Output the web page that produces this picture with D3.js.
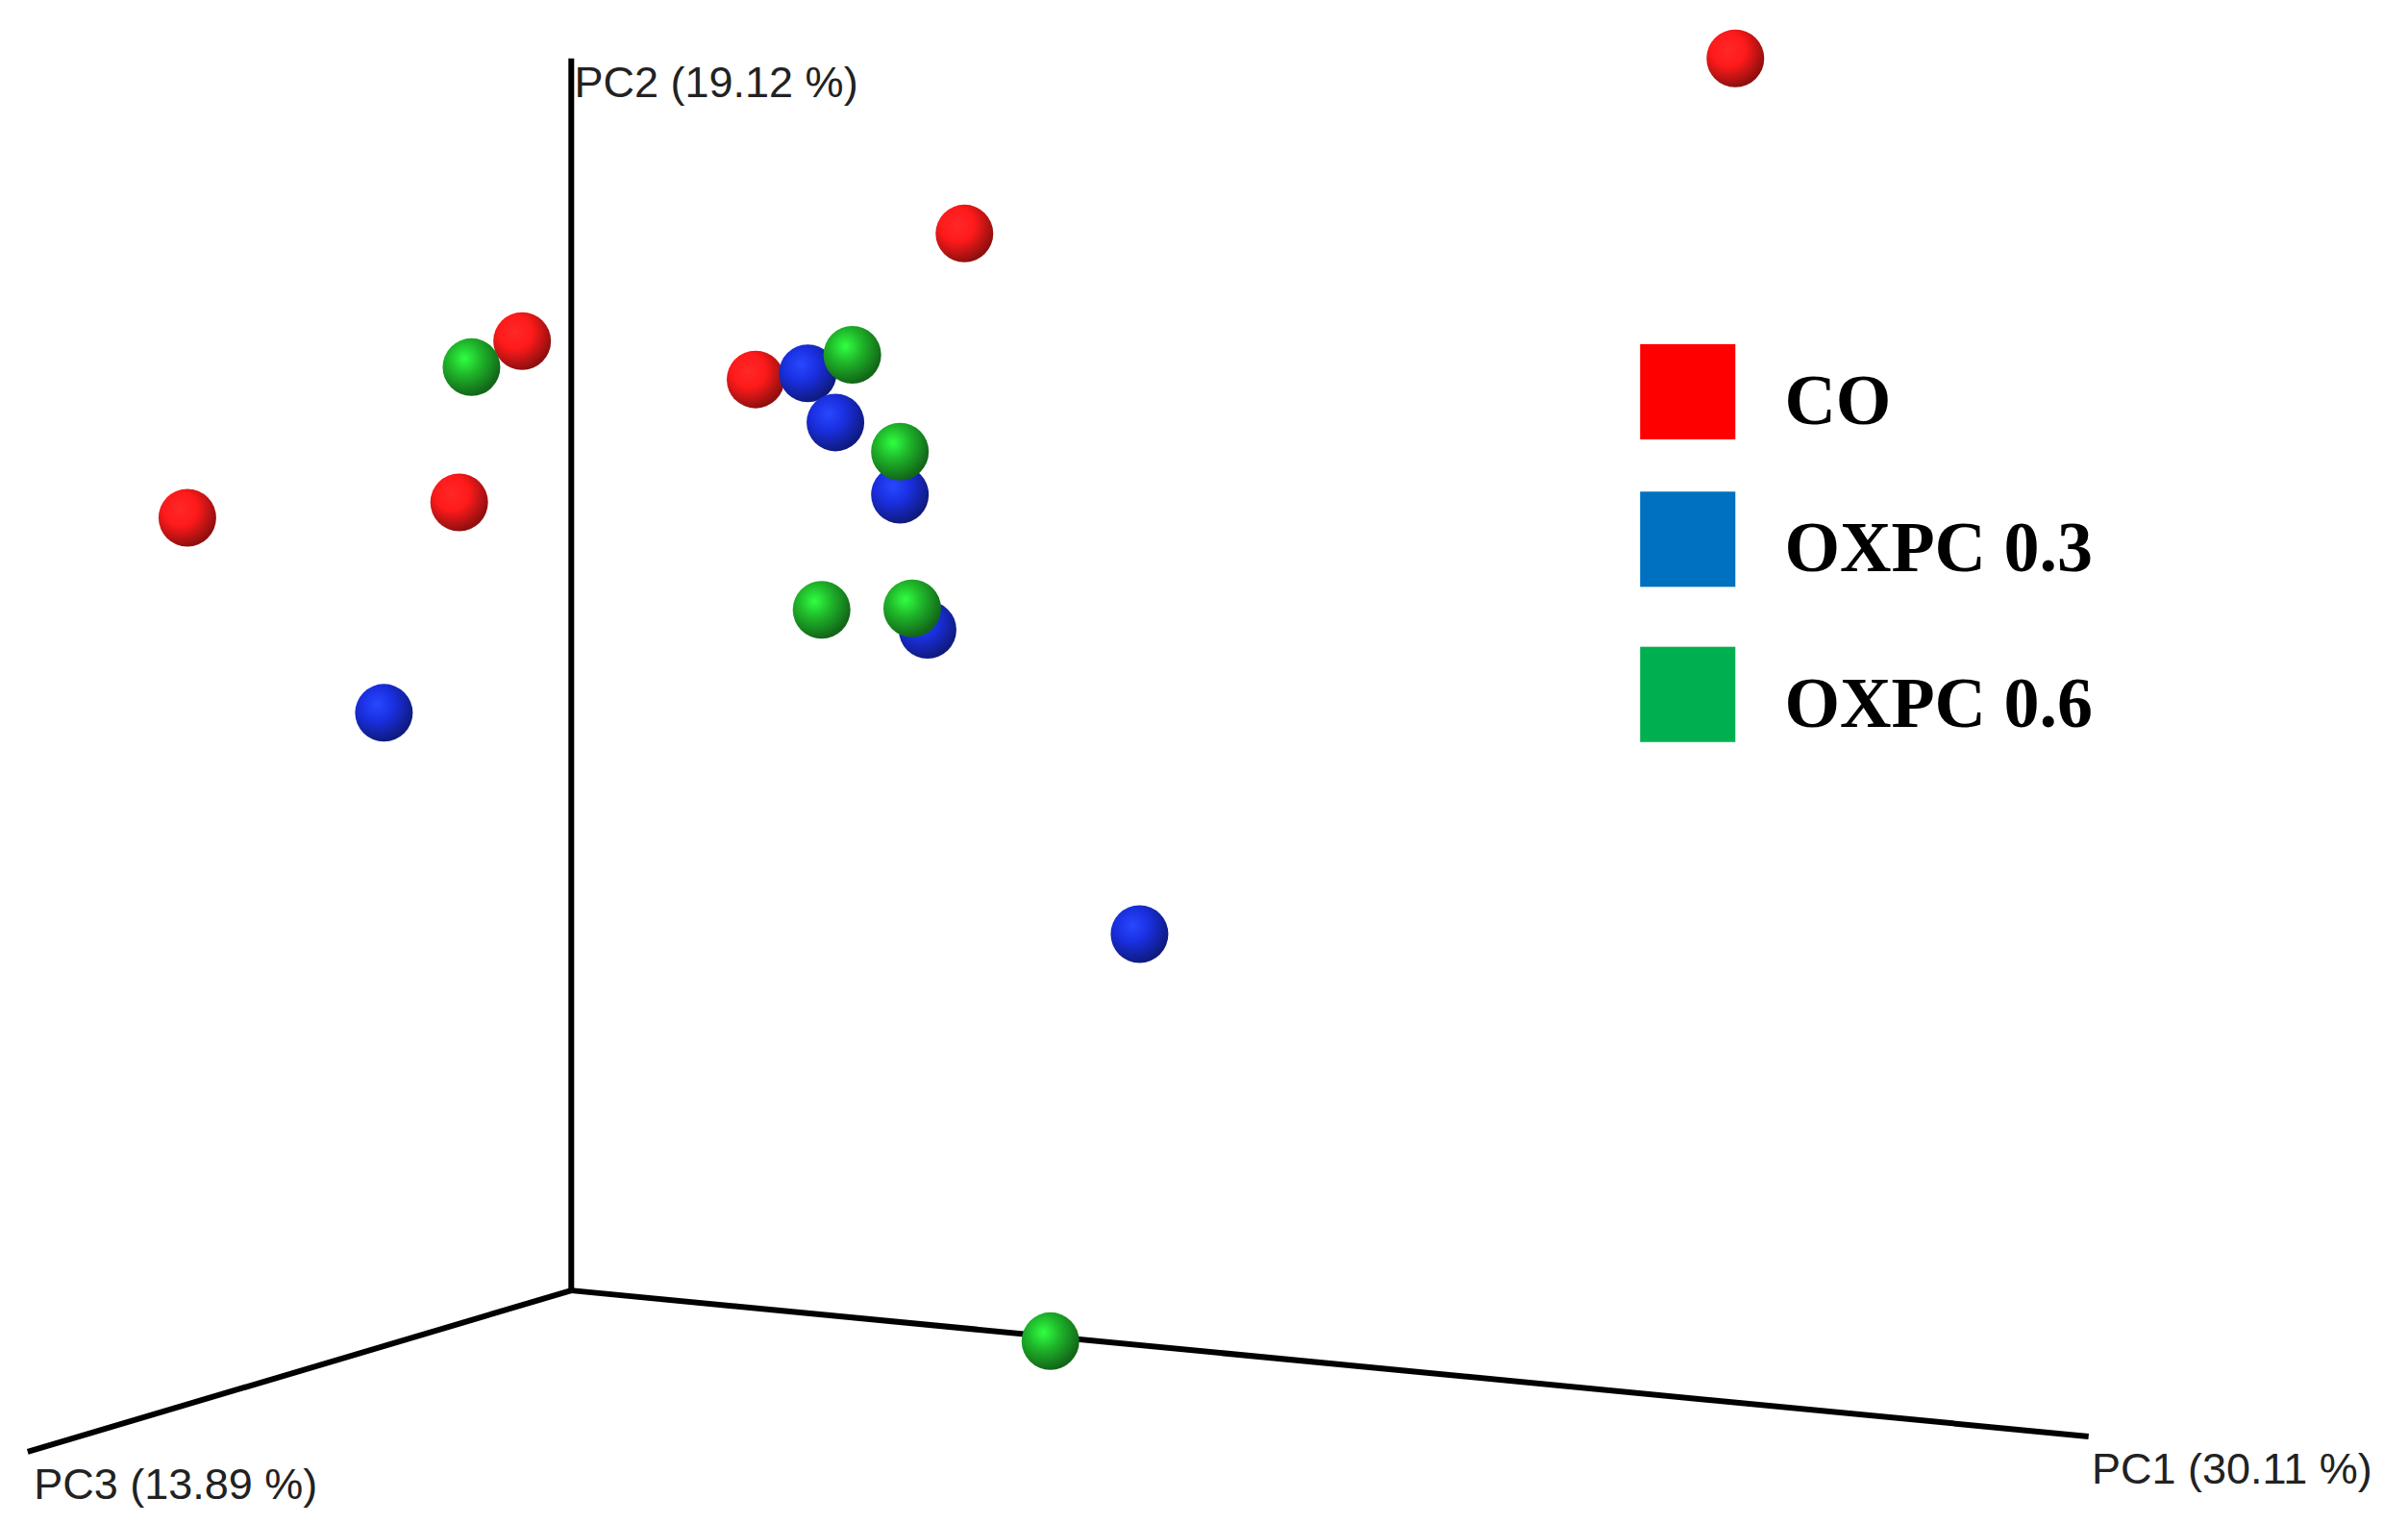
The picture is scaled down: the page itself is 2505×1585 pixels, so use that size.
<!DOCTYPE html>
<html><head><meta charset="utf-8">
<script src="https://cdn.jsdelivr.net/npm/d3@7"></script>
<style>body{margin:0;background:#fff}</style></head>
<body><svg id="c" width="2505" height="1585"></svg>
<script>
// projected coordinates of the 3D PCoA plot (screen units of a 1568x992 view)
const groups = ["CO","OXPC 0.3","OXPC 0.6"];
const colors = ["#ff0000","#0070c0","#00b050"];
const sphereColors = ["#ff1a1a","#1a2fe0","#1fb52a"];
const coX = [1130,628,340,492,122,299];
const coY = [38,152,222,247,337,327];
const o3X = [526,544,586,604,250,742];
const o3Y = [243,275,322,410,464,608];
const o6X = [307,555,586,535,594,684];
const o6Y = [239,231,294,397,396,873];
const axisEnds = [{name:"PC1 (30.11 %)",x:1360,y:935},{name:"PC2 (19.12 %)",x:372,y:38},{name:"PC3 (13.89 %)",x:18,y:945}];
const origin = {x:372,y:840};

const sx = d3.scaleLinear().domain([0,1568]).range([0,2505]);
const sy = d3.scaleLinear().domain([0,992]).range([0,1585]);
const svg = d3.select("#c");
const defs = svg.append("defs");
sphereColors.forEach((c,i)=>{
  const g = defs.append("radialGradient").attr("id","g"+i).attr("cx","38%").attr("cy","35%").attr("r","65%");
  g.append("stop").attr("offset","0%").attr("stop-color",d3.color(c).brighter(1.2));
  g.append("stop").attr("offset","45%").attr("stop-color",c);
  g.append("stop").attr("offset","100%").attr("stop-color",d3.color(c).darker(1.6));
});
axisEnds.forEach(a=>{
  svg.append("line").attr("x1",sx(origin.x)).attr("y1",sy(origin.y)).attr("x2",sx(a.x)).attr("y2",sy(a.y))
    .attr("stroke","#000").attr("stroke-width",6);
});
const lab = svg.append("g").attr("font-family","Liberation Sans, Arial").attr("font-size",45).attr("fill","#222");
lab.append("text").attr("x",sx(374)).attr("y",sy(63)).text(axisEnds[1].name);
lab.append("text").attr("x",sx(22)).attr("y",sy(976)).text(axisEnds[2].name);
lab.append("text").attr("x",sx(1362)).attr("y",sy(966)).text(axisEnds[0].name);

const pts = [];
[[coX,coY],[o3X,o3Y],[o6X,o6Y]].forEach(([X,Y],gi)=>X.forEach((x,i)=>pts.push({x,y:Y[i],g:gi})));
svg.append("g").selectAll("circle").data(pts).join("circle")
  .attr("cx",d=>sx(d.x)).attr("cy",d=>sy(d.y)).attr("r",30)
  .attr("fill",d=>`url(#g${d.g})`);

const leg = svg.append("g");
groups.forEach((g,i)=>{
  const y0 = [224,320,421][i];
  leg.append("rect").attr("x",sx(1068)).attr("y",sy(y0)).attr("width",sx(62)).attr("height",sy(62)).attr("fill",colors[i]);
  leg.append("text").attr("x",sx(1162)).attr("y",sy(y0+52)).text(g)
    .attr("font-family","Liberation Serif, Times New Roman").attr("font-weight","bold").attr("font-size",74).attr("fill","#000");
});
</script></body></html>
